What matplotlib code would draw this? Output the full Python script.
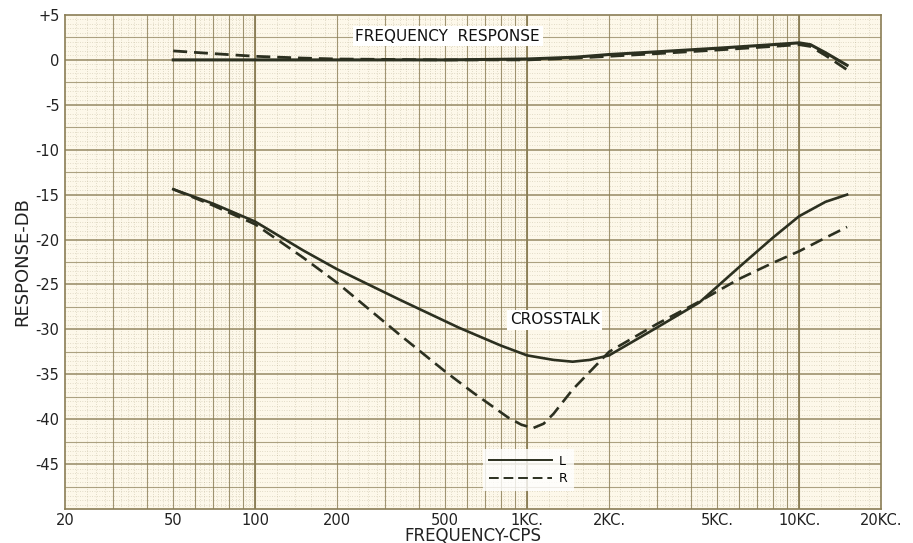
import numpy as np
import matplotlib.pyplot as plt
from matplotlib.ticker import FixedLocator, NullFormatter

# frequency response, left / right channel
fr_freq_l = [50, 100, 200, 500, 1000, 1500, 2000, 3000, 5000, 8000, 10000, 11000, 12500, 15000]
fr_l = [0.0, 0.0, 0.0, 0.0, 0.1, 0.3, 0.6, 0.9, 1.3, 1.7, 1.9, 1.7, 0.8, -0.6]
fr_freq_r = [50, 70, 100, 150, 200, 500, 1000, 1500, 2000, 3000, 5000, 8000, 10000, 11000, 12500, 15000]
fr_r = [1.0, 0.7, 0.4, 0.2, 0.1, 0.0, 0.0, 0.2, 0.4, 0.7, 1.1, 1.5, 1.7, 1.5, 0.5, -1.1]

# crosstalk, left / right channel
ct_freq_l = [50, 70, 100, 150, 200, 340, 560, 800, 1000, 1250, 1470, 1700, 2000, 3000, 4300, 6000, 8000, 10000, 12500, 15000]
ct_l = [-14.4, -16.0, -18.0, -21.2, -23.3, -26.7, -29.8, -31.8, -32.9, -33.4, -33.6, -33.4, -32.9, -29.8, -27.0, -23.1, -19.8, -17.4, -15.8, -15.0]
ct_freq_r = [50, 70, 100, 150, 200, 340, 500, 630, 850, 950, 1050, 1150, 1250, 1470, 2000, 3000, 4300, 6000, 8000, 10000, 12500, 15000]
ct_r = [-14.4, -16.2, -18.3, -22.0, -24.8, -30.6, -34.7, -37.0, -39.8, -40.6, -41.0, -40.5, -39.4, -36.7, -32.5, -29.4, -26.9, -24.4, -22.6, -21.3, -19.8, -18.6]

x_ticks = [20, 50, 100, 200, 500, 1000, 2000, 5000, 10000, 20000]
x_labels = ['20', '50', '100', '200', '500', '1KC.', '2KC.', '5KC.', '10KC.', '20KC.']
y_ticks = [5, 0, -5, -10, -15, -20, -25, -30, -35, -40, -45]
y_labels = ['+5', '0', '-5', '-10', '-15', '-20', '-25', '-30', '-35', '-40', '-45']

ink = '#2c3020'
grid_c = '#8a7d55'
paper = '#fdf8ea'

fig = plt.figure(figsize=(9.13, 5.43), dpi=100)
fig.patch.set_facecolor('white')
ax = fig.add_axes([0.0712, 0.0626, 0.8938, 0.9098])
ax.set_facecolor(paper)
ax.set_xscale('log')
ax.set_xlim(20, 20000)
ax.set_ylim(-50, 5)

# graph paper
fine_x = []
solid_x = []
for dec in [10, 100, 1000, 10000]:
    for m in range(1, 10):
        solid_x.append(m * dec)
        for k in range(1, 5):
            fine_x.append(m * dec * (1 + k * 0.2 / m) if m < 5 else (m + k * 0.25) * dec)
fine_x = [v for v in fine_x if 20 < v < 20000]
solid_x = [v for v in solid_x if 20 < v < 20000]
fine_y = [v for v in np.arange(-50, 5.01, 0.5) if v % 2.5 != 0]
ax.vlines(fine_x, -50, 5, colors=grid_c, lw=0.5, linestyles=(0, (1, 2.5)), alpha=0.45, zorder=0)
ax.hlines(fine_y, 20, 20000, colors=grid_c, lw=0.5, linestyles=(0, (1, 2.5)), alpha=0.45, zorder=0)
ax.vlines(solid_x, -50, 5, colors=grid_c, lw=0.8, alpha=0.8, zorder=0)
ax.hlines(np.arange(-47.5, 5, 5), 20, 20000, colors=grid_c, lw=0.8, alpha=0.7, zorder=0)
ax.hlines(np.arange(-45, 5, 5), 20, 20000, colors=grid_c, lw=1.1, alpha=0.9, zorder=0)
ax.vlines([100, 1000, 10000], -50, 5, colors=grid_c, lw=1.3, zorder=0)

ax.plot(fr_freq_l, fr_l, color=ink, lw=2.2, label='L', zorder=3)
ax.plot(fr_freq_r, fr_r, color=ink, lw=2.0, ls=(0, (5, 2.5)), label='R', zorder=3)
ax.plot(ct_freq_l, ct_l, color=ink, lw=1.9, zorder=3)
ax.plot(ct_freq_r, ct_r, color=ink, lw=1.9, ls=(0, (5, 2.5)), zorder=3)

ax.xaxis.set_major_locator(FixedLocator(x_ticks))
ax.xaxis.set_minor_formatter(NullFormatter())
ax.set_xticks(x_ticks, x_labels)
ax.set_yticks(y_ticks, y_labels)
ax.tick_params(axis='both', length=0, labelsize=10.5, colors='#222')
ax.tick_params(axis='x', pad=3)
ax.tick_params(axis='y', pad=4)
ax.tick_params(axis='x', which='minor', length=0)
for s in ax.spines.values():
    s.set_color(grid_c)
    s.set_linewidth(1.2)

ax.set_xlabel('FREQUENCY-CPS', fontsize=12, color='#222', labelpad=-1)
ax.set_ylabel('RESPONSE-DB', fontsize=13, color='#222', labelpad=3)

box = dict(facecolor='white', edgecolor='none', pad=2)
ax.text(0.469, 0.957, 'FREQUENCY  RESPONSE', transform=ax.transAxes, ha='center', va='center',
        fontsize=11, color='#111', bbox=box, zorder=4)
ax.text(0.600, 0.383, 'CROSSTALK', transform=ax.transAxes, ha='center', va='center',
        fontsize=11, color='#111', bbox=box, zorder=4)

leg = ax.legend(loc='center', bbox_to_anchor=(0.568, 0.079), fontsize=9, frameon=True,
                handlelength=5.0, handletextpad=0.6, borderpad=0.5, labelspacing=0.35)
leg.get_frame().set_facecolor('white')
leg.get_frame().set_edgecolor('none')
leg.get_frame().set_boxstyle('square', pad=0)
for line in leg.get_lines():
    line.set_linewidth(1.4)

fig.savefig('out.png', dpi=100)
